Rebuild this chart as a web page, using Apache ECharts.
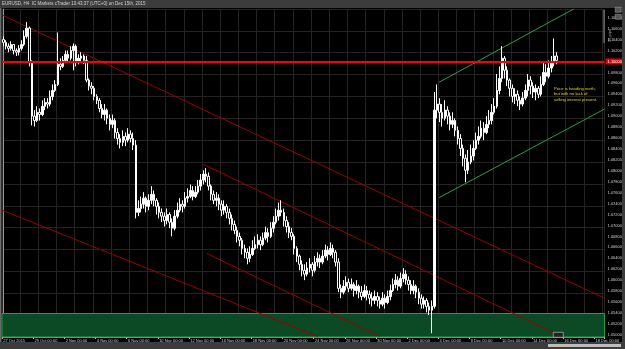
<!DOCTYPE html>
<html><head><meta charset="utf-8">
<script src="https://cdn.jsdelivr.net/npm/echarts@6/dist/echarts.min.js"></script>
<style>html,body{margin:0;padding:0;background:#000;}#c{width:625px;height:349px;}</style>
</head><body><div id="c"></div>
<script>
// ---- data (EURUSD H4, 27 Oct - 15 Dec 2015) ----
const firstOpen = 1.1040;
const closes = [
1.1035,1.1028,1.1024,1.1031,1.1020,1.1017,
1.1024,1.1031,1.1046,1.1061,1.0999,1.0900,
1.0892,1.0907,1.0903,1.0918,1.0925,1.0922,
1.0936,1.0947,1.0958,1.0995,1.0991,1.1002,
1.1013,1.1006,1.1020,1.1028,1.0999,1.1006,
1.1010,1.1002,1.0966,1.0955,1.0951,1.0936,
1.0929,1.0914,1.0903,1.0911,1.0896,1.0885,
1.0892,1.0870,1.0859,1.0852,1.0863,1.0856,
1.0867,1.0859,1.0847,1.0724,1.0731,1.0739,
1.0750,1.0735,1.0746,1.0757,1.0746,1.0735,
1.0724,1.0717,1.0709,1.0720,1.0706,1.0695,
1.0717,1.0728,1.0739,1.0735,1.0750,1.0753,
1.0764,1.0753,1.0761,1.0772,1.0783,1.0794,
1.0790,1.0772,1.0757,1.0746,1.0750,1.0739,
1.0728,1.0735,1.0724,1.0713,1.0702,1.0691,
1.0680,1.0673,1.0658,1.0651,1.0640,1.0647,
1.0658,1.0665,1.0673,1.0665,1.0677,1.0687,
1.0680,1.0695,1.0706,1.0717,1.0728,1.0724,
1.0709,1.0698,1.0687,1.0680,1.0658,1.0644,
1.0629,1.0618,1.0611,1.0622,1.0629,1.0618,
1.0633,1.0640,1.0633,1.0644,1.0655,1.0647,
1.0658,1.0651,1.0633,1.0585,1.0578,1.0589,
1.0596,1.0585,1.0592,1.0581,1.0589,1.0578,
1.0570,1.0581,1.0574,1.0567,1.0563,1.0570,
1.0563,1.0556,1.0567,1.0559,1.0570,1.0581,
1.0592,1.0600,1.0589,1.0603,1.0611,1.0600,
1.0592,1.0581,1.0589,1.0578,1.0567,1.0556,
1.0563,1.0552,1.0545,1.0552,1.0911,1.0922,
1.0907,1.0896,1.0911,1.0900,1.0885,1.0892,
1.0874,1.0859,1.0841,1.0823,1.0801,1.0816,
1.0827,1.0841,1.0856,1.0863,1.0878,1.0870,
1.0885,1.0892,1.0907,1.0918,1.0947,1.0969,
1.1006,1.0984,1.0966,1.0951,1.0936,1.0940,
1.0929,1.0922,1.0933,1.0947,1.0966,1.0955,
1.0944,1.0951,1.0940,1.0958,1.0980,1.0973,
1.0988,1.0999,1.1010,1.1002
];
const highs = [
1.1046,1.1039,1.1033,1.1037,1.1031,1.1024,
1.1030,1.1039,1.1057,1.1072,1.1064,1.1002,
1.0911,1.0918,1.0914,1.0929,1.0933,1.0933,
1.0947,1.0958,1.0966,1.1053,1.1006,1.1010,
1.1020,1.1020,1.1028,1.1033,1.1031,1.1013,
1.1017,1.1013,1.1010,1.0969,1.0962,1.0955,
1.0940,1.0933,1.0922,1.0922,1.0914,1.0903,
1.0903,1.0896,1.0878,1.0867,1.0874,1.0870,
1.0878,1.0874,1.0870,1.0856,1.0746,1.0753,
1.0761,1.0753,1.0757,1.0772,1.0764,1.0750,
1.0742,1.0731,1.0724,1.0731,1.0724,1.0713,
1.0728,1.0742,1.0750,1.0746,1.0761,1.0768,
1.0775,1.0772,1.0772,1.0783,1.0794,1.0801,
1.0805,1.0797,1.0775,1.0764,1.0761,1.0757,
1.0746,1.0746,1.0739,1.0731,1.0720,1.0709,
1.0698,1.0687,1.0677,1.0665,1.0658,1.0662,
1.0673,1.0680,1.0684,1.0680,1.0687,1.0698,
1.0695,1.0706,1.0717,1.0731,1.0742,1.0746,
1.0731,1.0717,1.0706,1.0695,1.0684,1.0662,
1.0647,1.0636,1.0629,1.0633,1.0640,1.0633,
1.0644,1.0651,1.0647,1.0655,1.0665,1.0662,
1.0669,1.0665,1.0655,1.0640,1.0592,1.0600,
1.0607,1.0603,1.0603,1.0596,1.0600,1.0592,
1.0589,1.0592,1.0589,1.0581,1.0578,1.0581,
1.0578,1.0570,1.0578,1.0574,1.0581,1.0592,
1.0603,1.0611,1.0607,1.0614,1.0622,1.0618,
1.0607,1.0600,1.0600,1.0592,1.0585,1.0574,
1.0570,1.0567,1.0559,1.0563,1.0944,1.0958,
1.0933,1.0922,1.0929,1.0918,1.0907,1.0907,
1.0896,1.0881,1.0867,1.0848,1.0830,1.0838,
1.0848,1.0856,1.0870,1.0881,1.0892,1.0889,
1.0900,1.0911,1.0922,1.0933,1.0977,1.0991,
1.1028,1.1010,1.0991,1.0969,1.0958,1.0951,
1.0947,1.0936,1.0944,1.0958,1.0977,1.0973,
1.0962,1.0958,1.0955,1.0973,1.0999,1.0995,
1.1002,1.1010,1.1042,1.1017
];
const lows = [
1.1028,1.1022,1.1017,1.1020,1.1013,1.1010,
1.1011,1.1020,1.1028,1.1042,1.0991,1.0883,
1.0881,1.0889,1.0892,1.0900,1.0911,1.0914,
1.0918,1.0929,1.0944,1.0955,1.0984,1.0988,
1.0999,1.0999,1.1002,1.0984,1.0991,1.0995,
1.0999,1.0995,1.0962,1.0947,1.0940,1.0929,
1.0922,1.0907,1.0896,1.0892,1.0885,1.0874,
1.0878,1.0859,1.0848,1.0841,1.0845,1.0845,
1.0852,1.0852,1.0838,1.0713,1.0717,1.0724,
1.0731,1.0724,1.0728,1.0739,1.0735,1.0720,
1.0713,1.0706,1.0698,1.0702,1.0695,1.0680,
1.0691,1.0713,1.0724,1.0724,1.0731,1.0742,
1.0750,1.0746,1.0750,1.0757,1.0764,1.0775,
1.0779,1.0764,1.0746,1.0739,1.0735,1.0728,
1.0717,1.0720,1.0713,1.0702,1.0691,1.0684,
1.0669,1.0662,1.0647,1.0640,1.0629,1.0633,
1.0644,1.0655,1.0658,1.0655,1.0662,1.0673,
1.0669,1.0677,1.0687,1.0702,1.0709,1.0717,
1.0698,1.0687,1.0677,1.0673,1.0647,1.0633,
1.0618,1.0607,1.0600,1.0607,1.0614,1.0607,
1.0614,1.0625,1.0622,1.0629,1.0640,1.0636,
1.0644,1.0640,1.0625,1.0578,1.0567,1.0574,
1.0581,1.0578,1.0581,1.0570,1.0574,1.0567,
1.0563,1.0567,1.0563,1.0556,1.0552,1.0556,
1.0552,1.0548,1.0552,1.0548,1.0556,1.0563,
1.0578,1.0585,1.0581,1.0585,1.0596,1.0592,
1.0581,1.0574,1.0574,1.0567,1.0556,1.0548,
1.0548,1.0541,1.0536,1.0503,1.0548,1.0896,
1.0889,1.0881,1.0892,1.0885,1.0874,1.0878,
1.0863,1.0848,1.0827,1.0808,1.0779,1.0794,
1.0812,1.0819,1.0838,1.0848,1.0859,1.0856,
1.0867,1.0878,1.0885,1.0903,1.0914,1.0940,
1.0962,1.0969,1.0955,1.0936,1.0925,1.0922,
1.0918,1.0911,1.0918,1.0929,1.0936,1.0940,
1.0933,1.0929,1.0933,1.0936,1.0955,1.0962,
1.0969,1.0980,1.0991,1.0995
];
const blankBars = 18;              // chart shift (empty bars on the right)
const levelPrice = 1.1000;         // horizontal resistance line
const zoneLow = 1.0496, zoneHigh = 1.0539;   // green support zone
// drawn trend lines: [barIndex, price] endpoints
const redLineA = [[-0.5, 1.1085], [231.5, 1.0567]];
const redLineB = [[77, 1.0812], [214, 1.0499]];
const redLineC = [[78.3, 1.0649], [145, 1.0497]];
const redLineD = [[-0.5, 1.0728], [121, 1.0497]];
const greenUpper = [[167.8, 1.0962], [219.6, 1.1096]];
const greenLower = [[167.8, 1.0751], [231.5, 1.0913]];
const noteLines = ['Price is heading north,', 'but with no lack of', 'selling interest present.'];
const titleText = 'EURUSD, H4  IC Markets cTrader 10:43:37 (UTC+0) on Dec 15th, 2015';
const yMin = 1.0496, yMax = 1.1096;

// ---- categories: H4 bar times, Mon-Fri ----
const MON = ['Jan','Feb','Mar','Apr','May','Jun','Jul','Aug','Sep','Oct','Nov','Dec'];
const categories = [];
{
  let t = Date.UTC(2015, 9, 27, 0);
  while (categories.length < closes.length + blankBars) {
    const d = new Date(t);
    const wd = d.getUTCDay();
    if (wd !== 0 && wd !== 6) {
      const hh = String(d.getUTCHours()).padStart(2, '0');
      categories.push(categories.length === 0
        ? d.getUTCDate() + ' ' + MON[d.getUTCMonth()] + ' 2015'
        : d.getUTCDate() + ' ' + MON[d.getUTCMonth()] + ' ' + hh + ':00');
    }
    t += 4 * 3600 * 1000;
  }
}
const candles = closes.map((c, i) => {
  const o = i === 0 ? firstOpen : closes[i - 1];
  return [o, c, Math.min(lows[i], o, c), Math.max(highs[i], o, c)];
});

const FONT = 'Liberation Sans';
const lineSeries = (data, color, width) => ({
  type: 'line', xAxisIndex: 1, yAxisIndex: 0, data, symbol: 'none', silent: true,
  lineStyle: { color, width }, z: 3, animation: false
});

const chart = echarts.init(document.getElementById('c'), null, { renderer: 'canvas' });
chart.setOption({
  backgroundColor: '#000',
  animation: false,
  grid: { left: 2, right: 19, top: 9, bottom: 12 },
  xAxis: [
    { type: 'category', data: categories, boundaryGap: true, position: 'bottom',
      axisLine: { show: true, lineStyle: { color: '#9a9a9a', width: 1 } },
      axisTick: { show: true, interval: 11, length: 2, lineStyle: { color: '#bbb' } },
      axisLabel: { interval: 11, fontSize: 4, color: '#cfcfcf', margin: 2, align: 'left', fontFamily: FONT },
      splitLine: { show: false } },
    { type: 'value', min: -0.5, max: 231.5, interval: 7, position: 'top',
      axisLine: { show: false }, axisTick: { show: false }, axisLabel: { show: false },
      splitLine: { show: true, lineStyle: { color: '#242424', width: 1 } } }
  ],
  yAxis: [
    { type: 'value', position: 'right', min: yMin, max: yMax, interval: 0.0004,
      axisLine: { show: true, lineStyle: { color: '#9a9a9a', width: 1 } },
      axisTick: { show: false },
      axisLabel: { fontSize: 4, color: '#cfcfcf', margin: 3, fontFamily: FONT,
        formatter: v => (Math.round(v * 10000) % 20 === 0 ? v.toFixed(5) : '') },
      splitLine: { show: false } },
    { type: 'value', position: 'left', min: yMin, max: yMax, interval: 0.004,
      axisLine: { show: false }, axisTick: { show: false }, axisLabel: { show: false },
      splitLine: { show: true, lineStyle: { color: '#242424', width: 1 } } }
  ],
  series: [
    { type: 'candlestick', xAxisIndex: 0, yAxisIndex: 0, data: candles, barWidth: 2, z: 4,
      itemStyle: { color: '#ffffff', color0: '#000000', borderColor: '#ffffff', borderColor0: '#ffffff', borderWidth: 1 },
      markArea: { silent: true, z: 1,
        itemStyle: { color: '#0b4a24', borderColor: '#23a347', borderWidth: 1 },
        data: [[{ yAxis: zoneLow }, { yAxis: zoneHigh }]] },
      markLine: { silent: true, symbol: 'none', z: 6,
        lineStyle: { color: '#ff0000', width: 2, type: 'solid' },
        label: { show: true, position: 'end', distance: 1, formatter: levelPrice.toFixed(5),
          backgroundColor: '#e00000', color: '#fff', fontSize: 4, padding: [1, 2], fontFamily: FONT },
        data: [{ yAxis: levelPrice }] } },
    lineSeries(redLineA, '#9c0000', 1),
    lineSeries(redLineB, '#9c0000', 1),
    lineSeries(redLineC, '#9c0000', 1),
    lineSeries(redLineD, '#9c0000', 1),
    lineSeries(greenUpper, '#2a9d4a', 1),
    lineSeries(greenLower, '#2a9d4a', 1)
  ],
  graphic: [
    { type: 'rect', left: 0, top: 0, shape: { width: 625, height: 8 }, style: { fill: '#3c3c3c' }, z: 10 },
    { type: 'text', left: 2, top: 1.5, style: { text: titleText, fill: '#d0d0d0', fontSize: 4.5, fontFamily: FONT }, z: 11 },
    { type: 'rect', left: 0, top: 342, shape: { width: 625, height: 7 }, style: { fill: '#3c3c3c' }, z: 10 },
    { type: 'rect', left: 548, top: 344, shape: { width: 73, height: 3 }, style: { fill: '#bdbdbd' }, z: 11 },
    { type: 'rect', left: 622, top: 8, shape: { width: 3, height: 334 }, style: { fill: '#3c3c3c' }, z: 10 },
    { type: 'rect', left: 0, top: 8, shape: { width: 1.5, height: 334 }, style: { fill: '#6a6a6a' }, z: 10 },
    { type: 'rect', left: 615, top: 7, shape: { width: 6, height: 5 }, style: { fill: '#555', stroke: '#aaa', lineWidth: 0.5 }, z: 11 },
    { type: 'rect', left: 615, top: 14, shape: { width: 6, height: 5 }, style: { fill: '#555', stroke: '#aaa', lineWidth: 0.5 }, z: 11 },
    { type: 'line', shape: { x1: 604, y1: 10, x2: 604, y2: 43 }, style: { stroke: '#bbb', lineWidth: 0.8 }, z: 11 },
    { type: 'text', x: 608, y: 42, rotation: Math.PI / 2, style: { text: '36 pips', fill: '#bbb', fontSize: 4, fontFamily: FONT }, z: 11 },
    { type: 'text', left: 554, top: 86, style: { text: noteLines.join('\n'), fill: '#e3d21a', fontSize: 4.2, lineHeight: 5.5, fontFamily: FONT }, z: 11 },
    { type: 'rect', left: 553, top: 332, shape: { width: 10, height: 5 }, style: { fill: '#222', stroke: '#ccc', lineWidth: 0.6 }, z: 11 }
  ]
});
</script></body></html>
